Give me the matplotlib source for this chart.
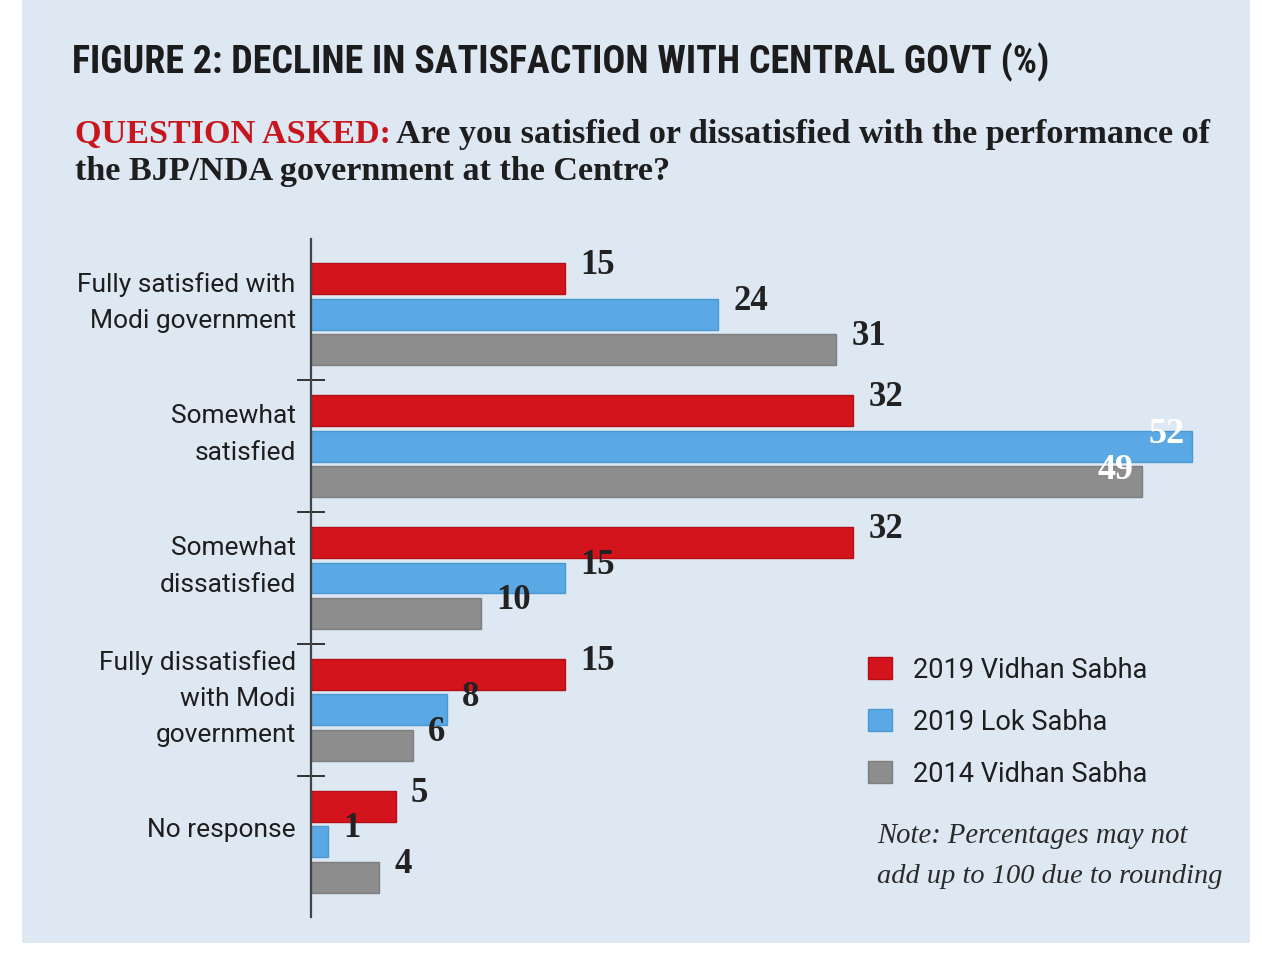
import matplotlib
matplotlib.use("Agg")
import matplotlib.pyplot as plt
from matplotlib.patches import Rectangle
from matplotlib import font_manager as fm
import numpy as np

categories = ["Fully satisfied with\nModi government", "Somewhat\nsatisfied",
              "Somewhat\ndissatisfied", "Fully dissatisfied\nwith Modi\ngovernment",
              "No response"]
series_names = ["2019 Vidhan Sabha", "2019 Lok Sabha", "2014 Vidhan Sabha"]
vs2019 = [15, 32, 32, 15, 5]
ls2019 = [24, 52, 15, 8, 1]
vs2014 = [31, 49, 10, 6, 4]
colors = ["#d3141c", "#5ba9e4", "#8d8d8d"]
edges = ["#b30f17", "#4b98d2", "#7e7e7e"]

W, H = 1262, 954
fig = plt.figure(figsize=(W / 100, H / 100), dpi=100)
fig.patch.set_facecolor("white")
fig.patches.append(Rectangle((22 / W, 1 - 944 / H), (1250 - 22) / W, 944 / H,
                             transform=fig.transFigure, facecolor="#dde8f3",
                             edgecolor="none", zorder=-5))


def _wt(f):
    w = f.weight
    if isinstance(w, str):
        return {"bold": 700, "heavy": 800, "black": 900, "semibold": 600,
                "demibold": 600, "extra bold": 800}.get(w.lower(), 400)
    return w


cond_bold = sorted({f.name for f in fm.fontManager.ttflist
                    if ("Condensed" in f.name or "Narrow" in f.name
                        or (isinstance(f.stretch, str) and "condensed" in f.stretch))
                    and _wt(f) >= 600 and f.style == "normal"})
pref = ["Roboto Condensed", "Liberation Sans Narrow", "Open Sans Condensed",
        "Noto Sans Condensed", "DejaVu Sans Condensed"]
title_family = next((p for p in pref if p in cond_bold),
                    cond_bold[0] if cond_bold else "Roboto")

ax = fig.add_axes([311 / W, 1 - 918 / H, 951 / W, 678 / H])
ax.set_facecolor("none")
ax.set_zorder(2)
ax.set_xlim(0, 951 / 16.95)
ax.set_ylim(4.57, -0.57)

y = np.arange(len(categories))
offs = [-0.27, 0.0, 0.27]
bh = 0.235
all_series = [vs2019, ls2019, vs2014]
bars = []
for vals, off, col, ec, nm in zip(all_series, offs, colors, edges, series_names):
    b = ax.barh(y + off, vals, height=bh, color=col, edgecolor=ec, linewidth=1.0,
                label=nm, zorder=2)
    bars.append(b)
    for yi, v in zip(y + off, vals):
        if v > 45:
            ax.annotate(str(v), (v, yi), xytext=(-6, 9), textcoords="offset points",
                        ha="right", va="center", fontsize=26, fontweight="bold",
                        family="Liberation Serif", color="white", zorder=3)
        else:
            ax.annotate(str(v), (v, yi), xytext=(11, 10), textcoords="offset points",
                        ha="left", va="center", fontsize=25, fontweight="bold",
                        family="Liberation Serif", color="#222222", zorder=3)

for sp in ["top", "right", "bottom"]:
    ax.spines[sp].set_visible(False)
ax.spines["left"].set_color("#444444")
ax.spines["left"].set_linewidth(1.6)
ax.set_xticks([])
ax.set_yticks([])
ax.set_yticks([0.5, 1.5, 2.5, 3.5], minor=True)
ax.tick_params(axis="y", which="minor", direction="inout", length=20, width=1.4,
               color="#333333")

for yi, lab in zip(y, categories):
    ax.annotate(lab, (0, yi), xycoords=("axes fraction", "data"), xytext=(-11, 9),
                textcoords="offset points", ha="right", va="center", fontsize=19,
                family="Roboto", color="#1e1e1e", linespacing=1.65)

fig.canvas.draw()
r = fig.canvas.get_renderer()

# Title, fitted to the reference width
title = fig.text(72 / W, 1 - 73 / H, "FIGURE 2: DECLINE IN SATISFACTION WITH CENTRAL GOVT (%)",
                 fontsize=30, fontweight="bold", fontstyle="normal", family=title_family,
                 color="#1c1c1c", va="baseline", ha="left")
w = title.get_window_extent(r).width
title.set_fontsize(30 * 975 / w)

# Subtitle
sub_fs = 24.6
t1 = fig.text(75 / W, 1 - 143 / H, "QUESTION ASKED:", fontsize=sub_fs, fontweight="bold",
              family="Liberation Serif", color="#c8161e", va="baseline", ha="left")
bb = t1.get_window_extent(r)
fig.text((bb.x1 + 5) / W, 1 - 143 / H,
         "Are you satisfied or dissatisfied with the performance of",
         fontsize=sub_fs, fontweight="bold", family="Liberation Serif", color="#1e1e1e",
         va="baseline", ha="left")
fig.text(75 / W, 1 - 180 / H, "the BJP/NDA government at the Centre?",
         fontsize=sub_fs, fontweight="bold", family="Liberation Serif", color="#1e1e1e",
         va="baseline", ha="left")

# Legend
leg = fig.legend(handles=bars, labels=series_names, loc="upper left",
                 bbox_to_anchor=(868 / W, 1 - 657 / H), frameon=False,
                 prop={"family": "Roboto", "size": 19.5}, handlelength=0.87,
                 handleheight=0.87, handletextpad=0.8, labelspacing=0.93,
                 borderpad=0, borderaxespad=0)
for t in leg.get_texts():
    t.set_color("#1e1e1e")

fig.text(877 / W, 1 - 843 / H, "Note: Percentages may not", fontsize=20.6,
         style="italic", family="Liberation Serif", color="#2a2a2a", va="baseline")
fig.text(877 / W, 1 - 883 / H, "add up to 100 due to rounding", fontsize=20.4,
         style="italic", family="Liberation Serif", color="#2a2a2a", va="baseline")

fig.savefig("out.png", dpi=100, facecolor=fig.get_facecolor())
